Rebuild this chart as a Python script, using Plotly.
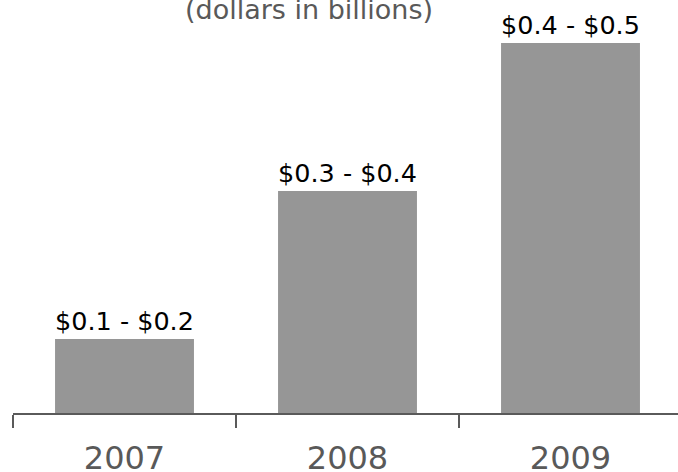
import plotly.graph_objects as go

years = ["2007", "2008", "2009"]
values = [0.1, 0.3, 0.5]
labels = ["$0.1 - $0.2", "$0.3 - $0.4", "$0.4 - $0.5"]
title_text = "(dollars in billions)"

FONT = "DejaVu Sans"

fig = go.Figure(
    go.Bar(
        x=years,
        y=values,
        text=labels,
        textposition="outside",
        textfont=dict(family=FONT, size=27, color="#000000"),
        marker=dict(color="#969696", line=dict(width=0)),
        cliponaxis=False,
        hoverinfo="skip",
    )
)

fig.update_layout(
    width=678,
    height=472,
    margin=dict(l=13, r=0, t=0, b=59),
    paper_bgcolor="white",
    plot_bgcolor="white",
    bargap=0.377,
    showlegend=False,
    font=dict(family=FONT),
    xaxis=dict(
        type="category",
        range=[-0.5, -0.5 + 665 / 223],
        showline=True,
        linecolor="#5a5a5a",
        linewidth=2,
        ticks="outside",
        tickson="boundaries",
        ticklen=13,
        tickwidth=2,
        tickcolor="#5a5a5a",
        tickfont=dict(family=FONT, size=32, color="#595959"),
        ticklabelstandoff=16,
        automargin=False,
        showgrid=False,
        zeroline=False,
    ),
    yaxis=dict(
        range=[0, 0.5 * 413 / 370],
        visible=False,
        showgrid=False,
        zeroline=False,
        automargin=False,
    ),
    annotations=[
        dict(
            text=title_text,
            xref="paper",
            yref="paper",
            x=(309 - 13) / 665,
            y=1 - 9 / 413,
            xanchor="center",
            yanchor="middle",
            showarrow=False,
            font=dict(family=FONT, size=27, color="#595959"),
        )
    ],
)

fig.write_html("out.html")
